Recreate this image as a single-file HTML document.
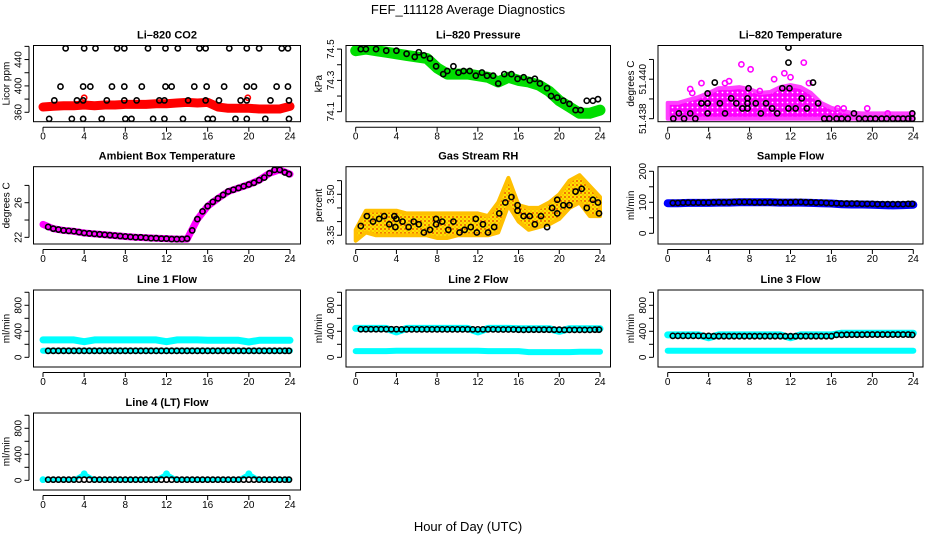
<!DOCTYPE html>
<html><head><meta charset="utf-8"><style>
body{margin:0;background:#fff}
svg{display:block;font-family:"Liberation Sans",sans-serif}
</style></head><body>
<svg id="chart" width="936" height="540" viewBox="0 0 936 540">
<defs>
<pattern id="rhpat" width="4" height="4" patternUnits="userSpaceOnUse">
<rect width="4" height="4" fill="#ffe000"/><circle cx="1" cy="1" r="0.9" fill="#e83000"/><circle cx="3" cy="3" r="0.6" fill="#f08000"/>
</pattern>
<pattern id="magpat" width="5" height="5" patternUnits="userSpaceOnUse">
<rect width="5" height="5" fill="#ff00ff"/><circle cx="2.5" cy="2.5" r="0.9" fill="#ffffff"/>
</pattern>
</defs>
<text x="468" y="14" text-anchor="middle" font-size="13">FEF_111128  Average Diagnostics</text>
<text x="468" y="531" text-anchor="middle" font-size="13">Hour of Day (UTC)</text>
</svg>
<script>
// ---------- data ----------
const hH = [0,1,2,3,4,5,6,7,8,9,10,11,12,13,14,15,16,17,18,19,20,21,22,23,24];
const hB = [0.5,1,1.5,2,2.5,3,3.5,4,4.5,5,5.5,6,6.5,7,7.5,8,8.5,9,9.5,10,10.5,11,11.5,12,12.5,13,13.5,14,14.5,15,15.5,16,16.5,17,17.5,18,18.5,19,19.5,20,20.5,21,21.5,22,22.5,23,23.5,23.9];

// CO2
const co2Red = [368,369,370,370,371,370,371,371,372,372,372,373,373,374,375,374,375,368,366,366,366,365,365,365,369];
const co2BlkH = [2.2,4.0,5.1,7.2,7.9,10.2,11.9,13.1,15.2,15.8,18.1,19.8,21.0,23.2,23.8, 1.7,3.9,4.6,6.7,7.9,9.6,11.9,12.5,14.7,15.9,17.6,19.8,20.5,22.7,23.8, 1.1,3.3,3.9,6.2,7.9,9.1,11.3,11.8,14.1,15.8,17.1,19.2,19.8,22.1,23.9, 0.6,2.8,3.9,5.7,8.0,8.6,10.7,11.8,13.6,16.0,16.5,18.7,19.8,21.6,23.9];
const co2BlkV = [457,457,457,457,457,457,457,457,457,457,457,457,457,457,457, 399,399,399,399,399,399,399,399,399,399,399,399,399,399,399, 378,378,378,378,378,378,378,378,378,378,378,378,378,378,378, 350,350,350,350,350,350,350,350,350,350,350,350,350,350,350];

// Pressure
const presGreen = [74.49,74.50,74.49,74.48,74.47,74.46,74.45,74.44,74.38,74.34,74.34,74.34,74.33,74.32,74.29,74.32,74.30,74.29,74.27,74.23,74.17,74.13,74.09,74.09,74.11];
const presBlkH = [0.5,1,2,3,4,5,5.8,6.2,6.7,7.3,7.9,8.6,9.0,9.6,10.1,10.6,11.2,11.8,12.4,12.9,13.5,14.0,14.6,15.3,15.9,16.5,17.1,17.6,18.1,18.8,19.2,19.8,20.4,21.0,21.6,22.1,22.7,23.3,23.8];
const presBlkV = [74.50,74.50,74.50,74.49,74.49,74.47,74.45,74.48,74.46,74.44,74.39,74.34,74.36,74.39,74.35,74.36,74.36,74.33,74.35,74.33,74.33,74.28,74.34,74.34,74.31,74.32,74.30,74.31,74.28,74.25,74.20,74.19,74.17,74.15,74.11,74.11,74.17,74.17,74.18];

// Li-820 temperature
const tmpLo = [51.4380,51.4380,51.4380,51.4380,51.4380,51.4380,51.4380,51.4380,51.4380,51.4380,51.4380,51.4380,51.4380,51.4380,51.4380,51.4380,51.4380,51.4380,51.4380,51.4380,51.4380,51.4380,51.4380,51.4380,51.4380];
const tmpHi = [51.43880,51.43880,51.43895,51.43910,51.43930,51.43955,51.43955,51.43960,51.43950,51.43930,51.43935,51.43960,51.43970,51.43960,51.43930,51.43880,51.43855,51.43840,51.43830,51.43827,51.43827,51.43827,51.43827,51.43827,51.43827];
const tmpMagH = [7.2,8.1,13.3,11.4,10.4,6.0,2.2,2.4,3.3,12.0,13.8,16.6,17.2,19.5,21.5,5.6,9.0];
const tmpMagV = [51.44075,51.44050,51.44084,51.44030,51.44000,51.43990,51.43950,51.43930,51.43980,51.44010,51.43980,51.43852,51.43852,51.43852,51.43827,51.43980,51.43940];
const tmpBlkH = [0.55,1.1,1.6,2.2,2.7,3.3,3.9,3.9,3.9,4.6,5.1,5.6,6.2,6.7,7.3,7.8,7.8,7.9,7.8,8.6,9.1,9.6,10.2,10.7,11.2,11.8,11.8,11.8,11.9,12.5,13.1,13.6,14.2,14.7,15.3,15.8,16.5,17.0,17.6,18.2,18.7,19.3,19.8,20.3,20.9,21.4,22.0,22.5,23.0,23.5,23.9,23.9];
const tmpBlkV = [51.43800,51.43827,51.43800,51.43827,51.43800,51.43878,51.43827,51.43878,51.43928,51.43983,51.43878,51.43827,51.43903,51.43878,51.43852,51.43878,51.43903,51.43954,51.43852,51.43878,51.43827,51.43878,51.43852,51.43827,51.43954,51.43852,51.44084,51.44160,51.43954,51.43852,51.43903,51.43852,51.43983,51.43878,51.43800,51.43800,51.43800,51.43800,51.43800,51.43827,51.43800,51.43800,51.43800,51.43800,51.43800,51.43800,51.43800,51.43800,51.43800,51.43800,51.43827,51.43800];

// Ambient box temperature
const ambMag = [23.5,23.0,22.8,22.7,22.5,22.4,22.3,22.2,22.1,22.0,21.95,21.9,21.85,21.8,21.8,24.1,25.6,26.5,27.3,27.7,28.1,28.6,29.4,29.8,29.3];
const ambBlk = [23.2,23.0,22.9,22.8,22.75,22.7,22.6,22.5,22.45,22.4,22.35,22.3,22.25,22.2,22.15,22.1,22.05,22.0,22.0,21.95,21.9,21.9,21.85,21.85,21.8,21.8,21.8,21.85,22.8,24.1,25.0,25.6,26.1,26.5,26.9,27.3,27.5,27.7,27.9,28.1,28.3,28.6,28.9,29.4,29.8,29.8,29.5,29.3];

// Gas stream RH
const rhLo = [3.33,3.36,3.35,3.35,3.35,3.35,3.35,3.35,3.34,3.34,3.35,3.35,3.35,3.35,3.36,3.46,3.40,3.37,3.38,3.39,3.41,3.45,3.47,3.42,3.42];
const rhHi = [3.37,3.44,3.44,3.44,3.44,3.43,3.43,3.43,3.43,3.43,3.43,3.43,3.43,3.42,3.47,3.56,3.46,3.45,3.45,3.47,3.50,3.55,3.57,3.53,3.49];
const rhBlkH = [0.5,1.1,1.7,2.3,2.8,3.3,3.8,3.9,4.0,4.6,5.2,5.7,6.2,6.7,7.3,7.9,7.9,8.5,9.1,9.6,10.2,10.7,11.3,11.8,11.9,12.5,13.0,13.6,14.1,14.7,15.3,15.9,15.9,16.5,17.1,17.6,18.2,18.8,19.3,19.8,19.8,20.4,21.0,21.6,22.2,22.7,23.3,23.8,23.9];
const rhBlkV = [3.384,3.42,3.40,3.41,3.42,3.39,3.42,3.38,3.41,3.40,3.38,3.40,3.39,3.36,3.37,3.41,3.39,3.40,3.37,3.40,3.36,3.37,3.38,3.41,3.36,3.39,3.36,3.38,3.43,3.47,3.49,3.46,3.44,3.42,3.42,3.39,3.42,3.38,3.45,3.48,3.43,3.46,3.46,3.51,3.52,3.45,3.48,3.47,3.43];

// Sample flow
const sampBlue = [97,97,98,98,98,99,99,100,100,100,100,99,99,99,98,97,96,94,93,93,92,91,90,91,92];
const sampBlk = [98,98,99,99,99,99,99,99,100,100,100,100,101,101,101,101,100,100,100,100,100,100,100,100,101,101,100,100,99,99,98,97,97,96,96,96,96,95,95,95,94,94,94,94,94,94,95,95];

// Line flows
const l1Upper = [268,268,268,268,240,268,268,268,268,268,268,268,240,268,268,268,262,262,262,262,235,262,262,262,262];
const l1Lower = [100,100,100,100,100,100,100,100,100,100,100,100,100,100,100,100,100,100,100,100,100,100,100,100,100];
const l1Blk = [100,100,100,100,100,100,100,100,100,100,100,100,100,100,100,100,100,100,100,100,100,100,100,100,100,100,100,100,100,100,100,100,100,100,100,100,100,100,100,100,100,100,100,100,100,100,100,100];
const l2Upper = [445,445,445,445,390,445,445,445,445,445,445,445,390,445,445,445,440,440,440,440,400,440,440,440,440];
const l2Lower = [95,95,95,95,100,100,100,100,100,100,100,100,100,95,95,95,95,80,80,80,80,80,85,85,85];
const l2Blk = [432,432,432,432,432,432,432,432,430,430,430,430,430,430,430,430,430,430,430,430,430,430,430,430,430,430,430,428,428,428,428,425,422,425,425,425,425,425,425,425,422,422,422,422,422,422,425,425];
const l3Upper = [345,345,345,345,300,345,345,345,345,345,345,345,300,345,345,345,345,370,370,370,370,370,370,370,370];
const l3Lower = [100,100,100,100,100,100,100,100,100,100,100,100,100,100,100,100,100,100,100,100,100,100,100,100,100];
const l3Blk = [330,330,330,330,330,330,330,330,325,325,325,325,325,325,325,325,325,325,325,325,325,325,325,325,325,325,325,325,325,325,325,325,345,345,348,348,348,348,350,350,350,350,350,350,350,350,350,345];
const l4Cyan = [10,10,10,10,100,10,10,10,10,10,10,10,100,10,10,10,10,10,10,10,100,10,10,10,10];
const l4Blk = [10,10,10,10,10,10,10,10,10,10,10,10,10,10,10,10,10,10,10,10,10,10,10,10,10,10,10,10,10,10,10,10,10,10,10,10,10,10,10,10,10,10,10,10,10,10,10,10];

const xTicks = [0,4,8,12,16,20,24];

// ---------- drawing ----------
const NS = 'http://www.w3.org/2000/svg';
const svg = document.getElementById('chart');
function mk(tag, attrs, parent){
  const e = document.createElementNS(NS, tag);
  for (const k in attrs) e.setAttribute(k, attrs[k]);
  (parent || svg).appendChild(e);
  return e;
}
const cols = [{L:33.5,R:300.5,x0:43,x24:290},{L:346,R:610.5,x0:355.7,x24:600},{L:658,R:923,x0:667.7,x24:913.3}];
const rows = [{T:45.5,B:121.7},{T:166.7,B:244},{T:290,B:367},{T:413,B:490}];

function makePanel(name, title, ylab, c, r, yTop, yBot, ticks, labels, fmt){
  const col = cols[c], row = rows[r];
  const g = mk('g', {});
  
  
  const p = {g, col, row, yTop, yBot,
    sx: h => col.x0 + h*(col.x24-col.x0)/24,
    sy: v => row.T + (yTop - v)/(yTop - yBot)*(row.B - row.T)};
  const clip = mk('clipPath', {id:'clip-'+name}, g);
  mk('rect', {x:col.L, y:row.T, width:col.R-col.L, height:row.B-row.T}, clip);
  p.plot = mk('g', {'clip-path':'url(#clip-'+name+')'}, g);
  const t = mk('text', {x:(col.L+col.R)/2, y:row.T-7, 'text-anchor':'middle', 'font-size':'11', 'font-weight':'bold'}, g);
  t.textContent = title;
  
  
  const yl = mk('text', {x:0, y:0, 'text-anchor':'middle', 'font-size':'10', transform:'translate('+(col.L-24)+','+((row.T+row.B)/2)+') rotate(-90)'}, g);
  yl.textContent = ylab;
  
  
  const xa = mk('g', {stroke:'#000', 'stroke-width':'1'}, g);
  
  
  mk('line', {x1:p.sx(0), x2:p.sx(24), y1:row.B+5.5, y2:row.B+5.5}, xa);
  xTicks.forEach(v => {
    mk('line', {x1:p.sx(v), x2:p.sx(v), y1:row.B+5.5, y2:row.B+10}, xa);
    const tl = mk('text', {x:p.sx(v), y:row.B+18, 'text-anchor':'middle', 'font-size':'10', stroke:'none'}, g);
    tl.textContent = v;
    
    
  });
  const ya = mk('g', {stroke:'#000', 'stroke-width':'1'}, g);
  
  
  mk('line', {x1:col.L-4.5, x2:col.L-4.5, y1:p.sy(ticks[0]), y2:p.sy(ticks[ticks.length-1])}, ya);
  ticks.forEach(v => {
    mk('line', {x1:col.L-4.5, x2:col.L-9, y1:p.sy(v), y2:p.sy(v)}, ya);
  });
  labels.forEach(v => {
    const tl = mk('text', {x:0, y:0, 'text-anchor':'middle', 'font-size':'10', transform:'translate('+(col.L-12)+','+p.sy(v)+') rotate(-90)'}, g);
    tl.textContent = fmt ? fmt(v) : v;
    
    
  });
  const box = mk('rect', {x:col.L, y:row.T, width:col.R-col.L, height:row.B-row.T, fill:'none', stroke:'#000', 'stroke-width':'1'}, g);
  
  
  return p;
}
function thick(p, hs, vs, color, w, name){
  const pts = hs.map((h,i) => p.sx(h).toFixed(1)+','+p.sy(vs[i]).toFixed(1)).join(' ');
  const e = mk('polyline', {points:pts, fill:'none', stroke:color, 'stroke-width':w, 'stroke-linejoin':'round', 'stroke-linecap':'round'}, p.plot);
  
  
}
function band(p, hs, lo, hi, fill, edge, name){
  const up = hs.map((h,i) => p.sx(h).toFixed(1)+','+p.sy(hi[i]).toFixed(1));
  const dn = hs.map((h,i) => p.sx(h).toFixed(1)+','+p.sy(lo[i]).toFixed(1)).reverse();
  const e = mk('polygon', {points:up.concat(dn).join(' '), fill:fill, stroke:edge, 'stroke-width':'4', 'stroke-linejoin':'round'}, p.plot);
  
  
}
function circles(p, hs, vs, color, name){
  const g = mk('g', {fill:'none', stroke:color, 'stroke-width':'1.6'}, p.plot);
  
  
  hs.forEach((h,i) => {
    const c = mk('circle', {cx:p.sx(h), cy:p.sy(vs[i]), r:'2.6'}, g);
    
    
  });
}

let p = makePanel('co2-panel','Li\u2013820 CO2','Licor ppm',0,0,461.3,345.7,[360,380,400,420,440,460],[360,400,440]);
thick(p, hH, co2Red, '#ff0000', 9, 'co2-band');
circles(p, [4.0,19.9], [382,382], '#ff0000', 'co2-red-outliers');
circles(p, co2BlkH, co2BlkV, '#000', 'co2-averages');

p = makePanel('pressure-panel','Li\u2013820 Pressure','kPa',1,0,74.523,74.036,[74.1,74.2,74.3,74.4,74.5],[74.1,74.3,74.5],v=>v.toFixed(1));
thick(p, hH, presGreen, '#00dd00', 11, 'pressure-band');
circles(p, presBlkH, presBlkV, '#000', 'pressure-averages');

p = makePanel('li820-temp-panel','Li\u2013820 Temperature','degrees C',2,0,51.441706,51.437848,[51.438,51.439,51.440,51.441],[51.438,51.440],v=>v.toFixed(3));
band(p, hH, tmpLo, tmpHi, 'url(#magpat)', '#ff40ff', 'temperature-band');
circles(p, tmpMagH, tmpMagV, '#ff00ff', 'temperature-scatter');
circles(p, tmpBlkH, tmpBlkV, '#000', 'temperature-averages');

p = makePanel('ambient-temp-panel','Ambient Box Temperature','degrees C',0,1,30.16,21.23,[22,24,26,28],[22,26]);
thick(p, hH, ambMag, '#ff00ff', 7, 'ambient-band');
circles(p, hB, ambBlk, '#000', 'ambient-averages');

p = makePanel('rh-panel','Gas Stream RH','percent',1,1,3.601,3.318,[3.35,3.40,3.45,3.50,3.55],[3.35,3.50],v=>v.toFixed(2));
band(p, hH, rhLo, rhHi, 'url(#rhpat)', '#ffc000', 'rh-band');
circles(p, rhBlkH, rhBlkV, '#000', 'rh-averages');

p = makePanel('sample-flow-panel','Sample Flow','ml/min',2,1,214.8,-34.5,[0,50,100,150,200],[0,100,200]);
thick(p, hH, sampBlue, '#0000ff', 8, 'sample-flow-band');
circles(p, hB, sampBlk, '#000', 'sample-flow-averages');

const flowTicks = [0,200,400,600,800,1000], flowLabels = [0,400,800];
p = makePanel('line1-panel','Line 1 Flow','ml/min',0,2,1035,-149,flowTicks,flowLabels);
thick(p, hH, l1Upper, '#00ffff', 7, 'line1-upper');
thick(p, hH, l1Lower, '#00ffff', 6, 'line1-lower');
circles(p, hB, l1Blk, '#000', 'line1-averages');
p = makePanel('line2-panel','Line 2 Flow','ml/min',1,2,1035,-149,flowTicks,flowLabels);
thick(p, hH, l2Upper, '#00ffff', 7, 'line2-upper');
thick(p, hH, l2Lower, '#00ffff', 6, 'line2-lower');
circles(p, hB, l2Blk, '#000', 'line2-averages');
p = makePanel('line3-panel','Line 3 Flow','ml/min',2,2,1035,-149,flowTicks,flowLabels);
thick(p, hH, l3Upper, '#00ffff', 7, 'line3-upper');
thick(p, hH, l3Lower, '#00ffff', 6, 'line3-lower');
circles(p, hB, l3Blk, '#000', 'line3-averages');
p = makePanel('line4-panel','Line 4 (LT) Flow','ml/min',0,3,1035,-149,flowTicks,flowLabels);
thick(p, hH, l4Cyan, '#00ffff', 4, 'line4-cyan');
circles(p, [0,4,12,20], [10,100,100,100], '#00ffff', 'line4-cyan-points');
circles(p, hB, l4Blk, '#000', 'line4-averages');
</script>
</body></html>
